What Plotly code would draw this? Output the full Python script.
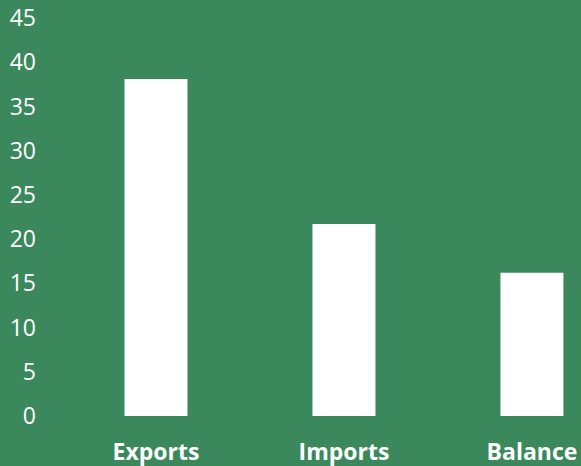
import plotly.graph_objects as go

categories = ["Exports", "Imports", "Balance"]
values = [38.1, 21.7, 16.2]
y_ticks = [0, 5, 10, 15, 20, 25, 30, 35, 40, 45]

BG = "#3A885C"

fig = go.Figure(
    go.Bar(
        x=categories,
        y=values,
        marker=dict(color="#FFFFFF", line=dict(width=0)),
        width=0.335,
        hoverinfo="x+y",
    )
)

fig.update_layout(
    width=581,
    height=466,
    margin=dict(l=40, r=0, t=18, b=50),
    paper_bgcolor=BG,
    plot_bgcolor=BG,
    showlegend=False,
    font=dict(family="Open Sans", color="#FFFFFF"),
)

fig.update_xaxes(
    type="category",
    range=[-0.617, 2.261],
    showgrid=False,
    zeroline=False,
    showline=False,
    ticks="",
    ticklabelstandoff=20,
    tickfont=dict(family="Open Sans", size=23, color="#FFFFFF", weight="bold"),
)

fig.update_yaxes(
    range=[0, 45],
    tickvals=y_ticks,
    ticktext=[str(v) for v in y_ticks],
    showgrid=False,
    zeroline=False,
    showline=False,
    ticks="",
    ticklabelstandoff=3,
    tickfont=dict(family="Open Sans", size=23, color="#FFFFFF"),
)

fig.write_html("out.html")
